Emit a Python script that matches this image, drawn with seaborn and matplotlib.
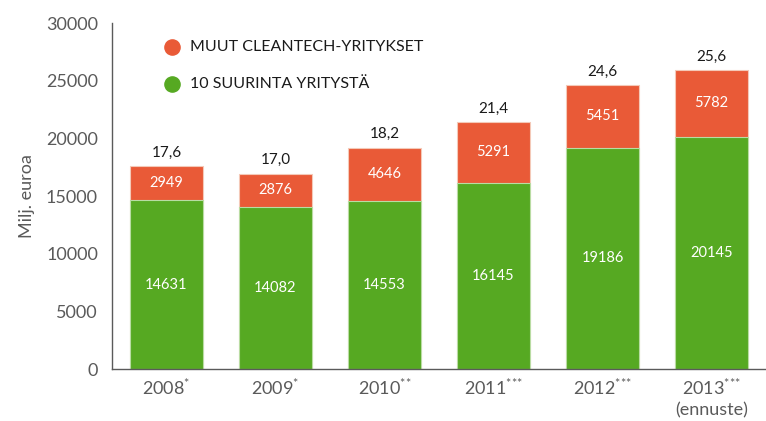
import matplotlib
matplotlib.use("Agg")
import matplotlib.pyplot as plt
import seaborn as sns
import pandas as pd
import numpy as np

categories = ["2008", "2009", "2010", "2011", "2012", "2013"]
tick_labels = ["2008$^{{*}}$", "2009$^{{*}}$", "2010$^{{*}{*}}$", "2011$^{{*}{*}{*}}$",
               "2012$^{{*}{*}{*}}$", "2013$^{{*}{*}{*}}$\n(ennuste)"]
top10 = [14631, 14082, 14553, 16145, 19186, 20145]
others = [2949, 2876, 4646, 5291, 5451, 5782]
totals_text = ["17,6", "17,0", "18,2", "21,4", "24,6", "25,6"]

GREEN = "#56a922"
ORANGE = "#e95a37"
GRAY = "#5a5a5a"

sns.set_theme(style="white")
plt.rcParams["font.family"] = ["Lato", "DejaVu Sans"]
plt.rcParams["mathtext.fontset"] = "custom"
plt.rcParams["mathtext.rm"] = "Lato"
plt.rcParams["mathtext.it"] = "Lato"

df = pd.DataFrame({"cat": categories, "top10": top10, "others": others})
df["total"] = df["top10"] + df["others"]

fig = plt.figure(figsize=(7.66, 4.21), dpi=100)
ax = fig.add_axes([0.146, 0.1235, 0.854, 0.8215])

sns.barplot(data=df, x="cat", y="total", color=ORANGE, saturation=1, width=0.67,
            edgecolor="#f4c9b8", linewidth=0.8, ax=ax)
sns.barplot(data=df, x="cat", y="top10", color=GREEN, saturation=1, width=0.67,
            edgecolor="#b9dca3", linewidth=0.8, ax=ax)

for i, (g, o, t) in enumerate(zip(top10, others, totals_text)):
    ax.text(i, g / 2, str(g), ha="center", va="center", color="white", fontsize=10.5)
    ax.text(i, g + o / 2, str(o), ha="center", va="center", color="white", fontsize=10.5)
    ax.text(i, g + o + 550, t, ha="center", va="bottom", color="#1a1a1a", fontsize=11)

ax.set_ylim(0, 30000)
ax.set_xlim(-0.5, 5.5)
ax.set_yticks(np.arange(0, 30001, 5000))
ax.set_yticklabels([str(v) for v in range(0, 30001, 5000)], color=GRAY, fontsize=13)
ax.set_xticks(range(len(categories)))
ax.set_xticklabels(tick_labels, color=GRAY, fontsize=13, linespacing=1.3)
ax.tick_params(axis="x", which="major", length=0, pad=6)
ax.set_xticks(np.arange(-0.5, 5.6, 1), minor=True)
ax.tick_params(axis="x", which="minor", length=5, width=1, color=GRAY, direction="out")
ax.tick_params(axis="y", length=6, width=1, color="#999999", direction="out", pad=4)
ax.set_xlabel("")
ax.set_ylabel("Milj. euroa", color=GRAY, fontsize=13, labelpad=8)

for s in ["top", "right"]:
    ax.spines[s].set_visible(False)
for s in ["left", "bottom"]:
    ax.spines[s].set_color(GRAY)
    ax.spines[s].set_linewidth(1)

# legend
ax.scatter([0.05], [27900], s=120, color=ORANGE, zorder=5, clip_on=False)
ax.text(0.22, 27900, "MUUT CLEANTECH-YRITYKSET", va="center", ha="left", fontsize=11.5, color="#1a1a1a")
ax.scatter([0.05], [24700], s=120, color=GREEN, zorder=5, clip_on=False)
ax.text(0.22, 24700, "10 SUURINTA YRITYSTÄ", va="center", ha="left", fontsize=11.5, color="#1a1a1a")

fig.savefig("out.png", dpi=100)
